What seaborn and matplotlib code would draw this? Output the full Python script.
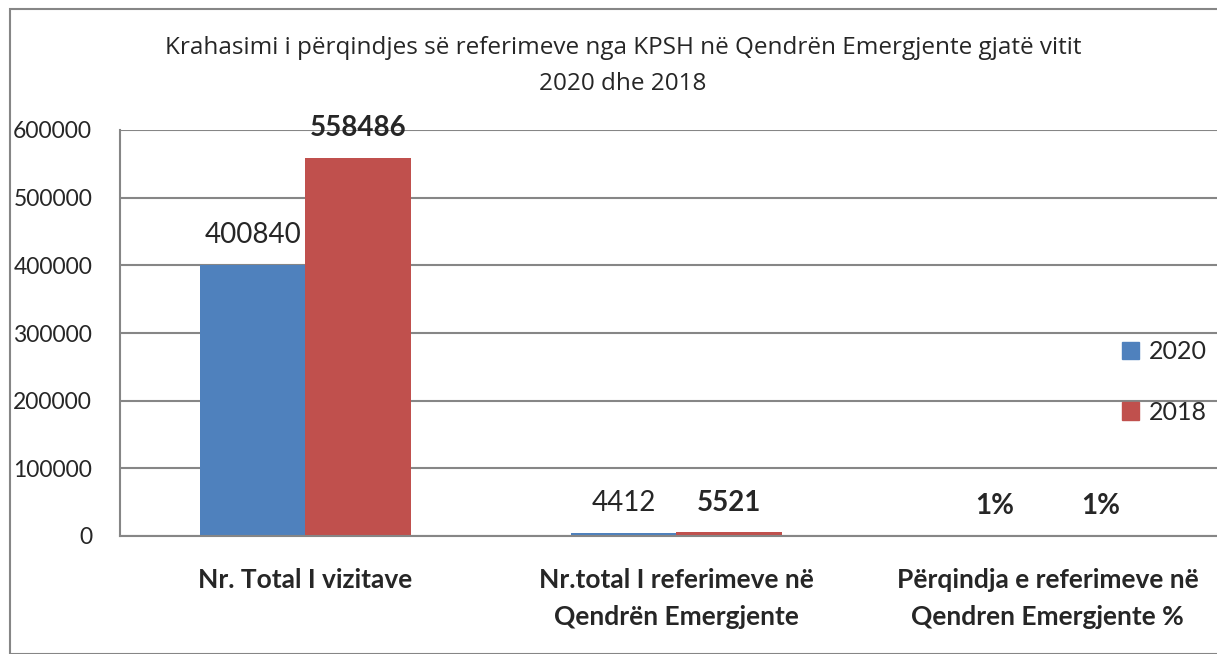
import pandas as pd
import numpy as np
import matplotlib
matplotlib.use("Agg")
import matplotlib.pyplot as plt
import seaborn as sns
from matplotlib.patches import Rectangle

# te dhenat nga grafiku
kategorite = ["Nr. Total I vizitave",
              "Nr.total I referimeve në\nQendrën Emergjente",
              "Përqindja e referimeve në\nQendren Emergjente %"]
vlerat_2020 = [400840, 4412, 1]
vlerat_2018 = [558486, 5521, 1]
etiketat_2020 = ["400840", "4412", "1%"]
etiketat_2018 = ["558486", "5521", "1%"]
vitet = ["2020", "2018"]
titulli = "Krahasimi i përqindjes së referimeve nga KPSH në Qendrën Emergjente gjatë vitit\n2020 dhe 2018"

df = pd.DataFrame({
    "Kategoria": kategorite * 2,
    "Vlera": vlerat_2020 + vlerat_2018,
    "Viti": [vitet[0]] * 3 + [vitet[1]] * 3,
})

sns.set_style("white")
plt.rcParams["font.family"] = ["Lato", "DejaVu Sans"]

W, H = 1217, 654
fig = plt.figure(figsize=(W / 100, H / 100), dpi=100)
ax = fig.add_axes([120 / W, (H - 536) / H, 1113 / W, 406 / H])

sns.barplot(data=df, x="Kategoria", y="Vlera", hue="Viti", hue_order=vitet,
            palette=["#4F81BD", "#C0504D"], saturation=1, width=0.57, gap=0,
            edgecolor="none", ax=ax)

ax.set_ylim(0, 600000)
ax.set_xlim(-0.5, 2.5)
ax.set_yticks(np.arange(0, 600001, 100000))
ax.set_yticklabels([str(v) for v in range(0, 600001, 100000)], fontsize=16.5)
ax.yaxis.grid(True, color="#868686", linewidth=1.5)
ax.set_axisbelow(True)
for s in ["top", "right"]:
    ax.spines[s].set_visible(False)
for s in ["left", "bottom"]:
    ax.spines[s].set_color("#868686")
    ax.spines[s].set_linewidth(1.5)
ax.tick_params(axis="y", length=0, pad=20)
ax.tick_params(axis="x", length=0, pad=23)
ax.set_xticks(range(3))
ax.set_xticklabels(kategorite, fontsize=19, fontweight="bold", linespacing=1.65, va="top")
ax.set_xlabel("")
ax.set_ylabel("")

# etiketat e vlerave
t1 = ax.bar_label(ax.containers[0], labels=etiketat_2020, padding=12, fontsize=20)
t2 = ax.bar_label(ax.containers[1], labels=etiketat_2018, padding=12, fontsize=20)
t1[2].set_fontweight("bold")
for t in t2:
    t.set_fontweight("bold")

# legjenda
ax.get_legend().remove()
handles = [Rectangle((0, 0), 1, 1, color=c) for c in ["#4F81BD", "#C0504D"]]
fig.legend(handles, vitet, loc="center left", bbox_to_anchor=(1109 / W, 1 - 382 / H),
           frameon=False, fontsize=18, handlelength=0.7, handleheight=0.7,
           handletextpad=0.4, labelspacing=1.5, borderpad=0)

fig.text(623 / W, 1 - 66 / H, titulli, ha="center", va="center", fontsize=17.5,
         family=["Open Sans", "DejaVu Sans"], linespacing=1.65)

# korniza
fig.patches.append(Rectangle((10 / W, 0), 1.2, 1 - 9 / H, transform=fig.transFigure,
                             fill=False, edgecolor="#868686", linewidth=1.5))

fig.savefig("out.png", dpi=100)
